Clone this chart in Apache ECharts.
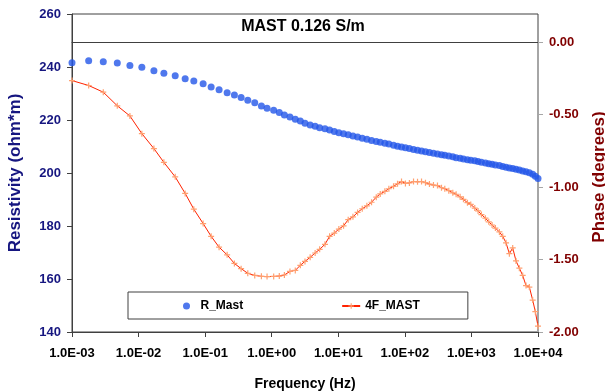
<!DOCTYPE html>
<html>
<head>
<meta charset="utf-8">
<title>MAST 0.126 S/m</title>
<script src="https://cdn.jsdelivr.net/npm/echarts@6/dist/echarts.min.js"></script>
<style>
  html, body { margin: 0; padding: 0; background: #ffffff; }
  #chart { width: 605px; height: 391px; }
</style>
</head>
<body>
<div id="chart"></div>
<script>
// Measurement frequencies (Hz)
const frequency = [
  0.001, 0.00178, 0.00295, 0.00479, 0.00741, 0.0112, 0.0170, 0.0240, 0.0355, 0.0501,
  0.0676, 0.0933, 0.123, 0.162, 0.214, 0.275, 0.347, 0.437, 0.556, 0.700,
  0.851, 1.07, 1.30, 1.55, 1.88, 2.26, 2.69, 3.16, 3.78, 4.49,
  5.25, 6.31, 7.41, 8.71, 10.2, 12.0, 14.1, 16.6, 19.5, 22.9,
  26.9, 31.6, 37.2, 42.7, 50.1, 57.5, 67.6, 77.6, 89.1, 102,
  117, 135, 155, 178, 204, 234, 269, 309, 355, 398,
  457, 525, 589, 676, 759, 871, 977, 1122, 1259, 1413,
  1622, 1820, 2042, 2291, 2630, 2951, 3311, 3715, 4169, 4677,
  5248, 5888, 6607, 7413, 8318, 9120, 10000
];

// Resistivity (ohm*m), R_Mast
const resistivity = [
  241.6, 242.4, 242.0, 241.5, 240.6, 239.9, 238.6, 237.6, 236.7, 235.6,
  234.7, 233.7, 232.5, 231.4, 230.3, 229.4, 228.5, 227.5, 226.5, 225.3,
  224.4, 223.7, 222.8, 221.9, 221.1, 220.3, 219.6, 218.8, 218.1, 217.6,
  217.1, 216.7, 216.2, 215.7, 215.2, 214.8, 214.4, 214.0, 213.6, 213.1,
  212.7, 212.3, 211.9, 211.6, 211.2, 210.9, 210.5, 210.1, 209.8, 209.5,
  209.2, 208.9, 208.6, 208.3, 208.0, 207.7, 207.5, 207.2, 206.9, 206.7,
  206.4, 206.1, 205.8, 205.6, 205.3, 205.0, 204.8, 204.6, 204.3, 204.1,
  203.8, 203.5, 203.3, 203.0, 202.8, 202.5, 202.2, 201.9, 201.7, 201.4,
  201.1, 200.8, 200.5, 200.1, 199.5, 198.8, 197.9
];

// Phase (degrees), 4F_MAST
const phase = [
  -0.266, -0.300, -0.346, -0.440, -0.510, -0.632, -0.735, -0.830, -0.930, -1.044,
  -1.153, -1.252, -1.340, -1.415, -1.468, -1.527, -1.563, -1.595, -1.610, -1.616,
  -1.618, -1.617, -1.614, -1.607, -1.582, -1.575, -1.540, -1.513, -1.485, -1.455,
  -1.430, -1.395, -1.340, -1.318, -1.290, -1.268, -1.225, -1.206, -1.175, -1.150,
  -1.130, -1.105, -1.070, -1.048, -1.030, -1.012, -0.995, -0.978, -0.962, -0.975,
  -0.972, -0.962, -0.964, -0.962, -0.970, -0.980, -0.987, -0.990, -1.005, -1.012,
  -1.025, -1.040, -1.050, -1.068, -1.085, -1.108, -1.120, -1.145, -1.165, -1.190,
  -1.215, -1.240, -1.262, -1.283, -1.310, -1.340, -1.385, -1.460, -1.420, -1.510,
  -1.560, -1.610, -1.680, -1.690, -1.780, -1.860, -1.960
];

const seriesNames = ['R_Mast', '4F_MAST'];
const chartTitle = 'MAST 0.126 S/m';
const xAxisTitle = 'Frequency (Hz)';
const leftAxisTitle = 'Resistivity (ohm*m)';
const rightAxisTitle = 'Phase (degrees)';

const FONT = '"Liberation Sans", Arial, Helvetica, sans-serif';
const AXIS_DARK = '#404040';

// 1.0E-03 style labels for the log axis
function sciLabel(v) {
  const e = Math.round(Math.log10(v));
  const s = e < 0 ? '-' : '+';
  const a = Math.abs(e);
  return '1.0E' + s + (a < 10 ? '0' + a : a);
}

const resPoints = frequency.map((f, i) => [f, resistivity[i]]);
const phasePoints = frequency.map((f, i) => [f, phase[i]]);

const chart = echarts.init(document.getElementById('chart'), null, { renderer: 'canvas' });

chart.setOption({
  animation: false,
  backgroundColor: '#ffffff',
  textStyle: { fontFamily: FONT },
  title: {
    text: chartTitle,
    left: 303,
    top: 19,
    textAlign: 'center',
    padding: 0,
    textStyle: { fontFamily: FONT, fontSize: 16, fontWeight: 'bold', color: '#000000' }
  },
  legend: {
    data: [
      { name: seriesNames[0], icon: 'circle' },
      { name: seriesNames[1] }
    ],
    left: 128,
    top: 292,
    padding: [8, 48, 7, 55],
    itemGap: 98,
    itemWidth: 18,
    itemHeight: 7,
    borderColor: AXIS_DARK,
    borderWidth: 1,
    backgroundColor: '#ffffff',
    textStyle: { fontFamily: FONT, fontSize: 12, fontWeight: 'bold', color: '#000000' }
  },
  grid: [
    { left: 72, right: 67, top: 14, bottom: 59, outerBoundsMode: 'none', containLabel: false,
      show: true, borderColor: AXIS_DARK, borderWidth: 1, backgroundColor: 'transparent' },
    { left: 72, right: 67, top: 42, bottom: 59, outerBoundsMode: 'none', containLabel: false }
  ],
  xAxis: [
    {
      gridIndex: 0,
      type: 'log',
      logBase: 10,
      min: 0.001,
      max: 10000,
      position: 'bottom',
      name: xAxisTitle,
      nameLocation: 'middle',
      nameGap: 45,
      nameTextStyle: { fontFamily: FONT, fontSize: 14, fontWeight: 'bold', color: '#000000' },
      axisLine: { show: true, lineStyle: { color: AXIS_DARK, width: 1 } },
      axisTick: { show: true, inside: false, length: 5, lineStyle: { color: AXIS_DARK } },
      minorTick: { show: false },
      splitLine: { show: false },
      axisLabel: {
        margin: 15,
        formatter: sciLabel,
        fontFamily: FONT, fontSize: 13, fontWeight: 'bold', color: '#000000'
      }
    },
    {
      gridIndex: 1,
      type: 'log',
      logBase: 10,
      min: 0.001,
      max: 10000,
      position: 'top',
      axisLine: { show: true, lineStyle: { color: AXIS_DARK, width: 1 } },
      axisTick: { show: false },
      axisLabel: { show: false },
      splitLine: { show: false }
    }
  ],
  yAxis: [
    {
      gridIndex: 0,
      type: 'value',
      position: 'left',
      min: 140,
      max: 260,
      interval: 20,
      name: leftAxisTitle,
      nameLocation: 'middle',
      nameGap: 48,
      nameTextStyle: { fontFamily: FONT, fontSize: 17, fontWeight: 'bold', color: '#161680' },
      axisLine: { show: true, lineStyle: { color: AXIS_DARK, width: 1 } },
      axisTick: { show: true, inside: false, length: 5, lineStyle: { color: AXIS_DARK } },
      splitLine: { show: false },
      axisLabel: { margin: 11, fontFamily: FONT, fontSize: 13, fontWeight: 'bold', color: '#161680' }
    },
    {
      gridIndex: 1,
      type: 'value',
      position: 'right',
      min: -2,
      max: 0,
      interval: 0.5,
      name: rightAxisTitle,
      nameLocation: 'middle',
      nameGap: 53,
      nameTextStyle: { fontFamily: FONT, fontSize: 17, fontWeight: 'bold', color: '#800000', padding: [0, 0, 0, 20] },
      axisLine: { show: true, lineStyle: { color: '#a6a6a6', width: 2 } },
      axisTick: { show: true, inside: false, length: 5, lineStyle: { color: '#a6a6a6' } },
      splitLine: { show: false },
      axisLabel: {
        margin: 11,
        formatter: v => v.toFixed(2),
        fontFamily: FONT, fontSize: 13, fontWeight: 'bold', color: '#800000'
      }
    }
  ],
  series: [
    {
      name: seriesNames[0],
      type: 'scatter',
      xAxisIndex: 0,
      yAxisIndex: 0,
      data: resPoints,
      symbol: 'circle',
      symbolSize: 7,
      itemStyle: { color: '#2356e8' },
      z: 3
    },
    {
      name: seriesNames[1],
      type: 'line',
      xAxisIndex: 1,
      yAxisIndex: 1,
      data: phasePoints,
      symbol: 'path://M4,0H6V4H10V6H6V10H4V6H0V4H4Z',
      symbolSize: 6,
      showSymbol: true,
      showAllSymbol: true,
      lineStyle: { color: '#ff2200', width: 1 },
      itemStyle: { color: '#ffa070' },
      z: 4
    }
  ]
});
</script>
</body>
</html>
